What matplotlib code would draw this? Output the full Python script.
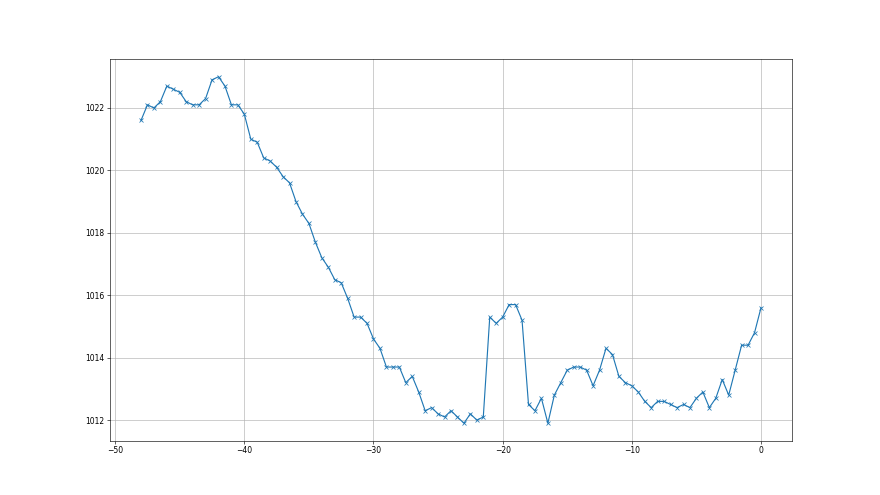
import matplotlib
matplotlib.use("Agg")
import matplotlib.pyplot as plt

hours = [-48.0, -47.5, -47.0, -46.5, -46.0, -45.5, -45.0, -44.5, -44.0, -43.5,
         -43.0, -42.5, -42.0, -41.5, -41.0, -40.5, -40.0, -39.5, -39.0, -38.5,
         -38.0, -37.5, -37.0, -36.5, -36.0, -35.5, -35.0, -34.5, -34.0, -33.5,
         -33.0, -32.5, -32.0, -31.5, -31.0, -30.5, -30.0, -29.5, -29.0, -28.5,
         -28.0, -27.5, -27.0, -26.5, -26.0, -25.5, -25.0, -24.5, -24.0, -23.5,
         -23.0, -22.5, -22.0, -21.5, -21.0, -20.5, -20.0, -19.5, -19.0, -18.5,
         -18.0, -17.5, -17.0, -16.5, -16.0, -15.5, -15.0, -14.5, -14.0, -13.5,
         -13.0, -12.5, -12.0, -11.5, -11.0, -10.5, -10.0, -9.5, -9.0, -8.5,
         -8.0, -7.5, -7.0, -6.5, -6.0, -5.5, -5.0, -4.5, -4.0, -3.5,
         -3.0, -2.5, -2.0, -1.5, -1.0, -0.5, 0.0]

pressure = [1021.6, 1022.1, 1022.0, 1022.2, 1022.7, 1022.6, 1022.5, 1022.2, 1022.1, 1022.1,
            1022.3, 1022.9, 1023.0, 1022.7, 1022.1, 1022.1, 1021.8, 1021.0, 1020.9, 1020.4,
            1020.3, 1020.1, 1019.8, 1019.6, 1019.0, 1018.6, 1018.3, 1017.7, 1017.2, 1016.9,
            1016.5, 1016.4, 1015.9, 1015.3, 1015.3, 1015.1, 1014.6, 1014.3, 1013.7, 1013.7,
            1013.7, 1013.2, 1013.4, 1012.9, 1012.3, 1012.4, 1012.2, 1012.1, 1012.3, 1012.1,
            1011.9, 1012.2, 1012.0, 1012.1, 1015.3, 1015.1, 1015.3, 1015.7, 1015.7, 1015.2,
            1012.5, 1012.3, 1012.7, 1011.9, 1012.8, 1013.2, 1013.6, 1013.7, 1013.7, 1013.6,
            1013.1, 1013.6, 1014.3, 1014.1, 1013.4, 1013.2, 1013.1, 1012.9, 1012.6, 1012.4,
            1012.6, 1012.6, 1012.5, 1012.4, 1012.5, 1012.4, 1012.7, 1012.9, 1012.4, 1012.7,
            1013.3, 1012.8, 1013.6, 1014.4, 1014.4, 1014.8, 1015.6]

fig, ax = plt.subplots(figsize=(16, 9), dpi=55)
ax.plot(hours, pressure, marker="x", color="#1f77b4")
ax.grid(True)
fig.savefig("out.png", dpi=55)
